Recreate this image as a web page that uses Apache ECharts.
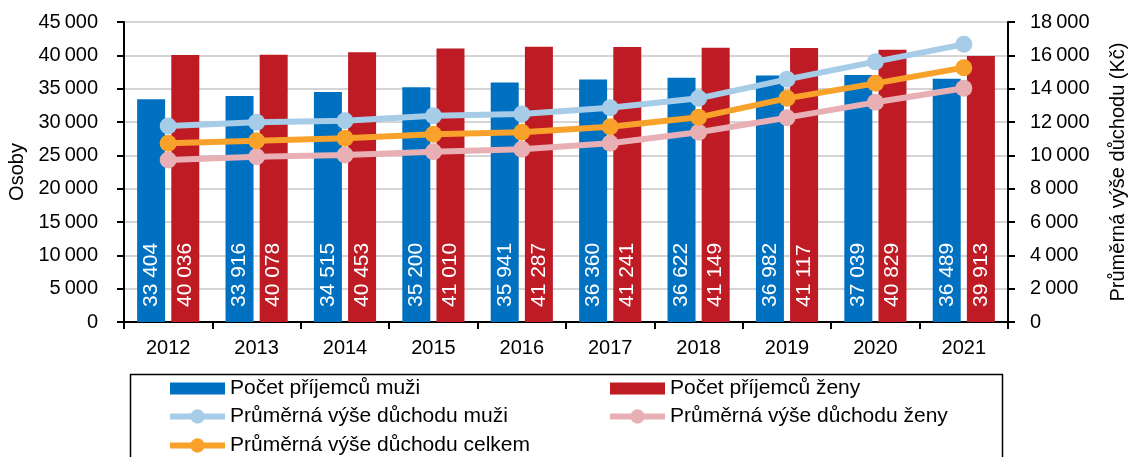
<!DOCTYPE html>
<html>
<head>
<meta charset="utf-8">
<script src="https://cdn.jsdelivr.net/npm/echarts@6/dist/echarts.min.js"></script>
<style>
html,body{margin:0;padding:0;background:#fff;}
#c{width:1129px;height:457px;}
</style>
</head>
<body>
<div id="c"></div>
<script>
var years = ['2012','2013','2014','2015','2016','2017','2018','2019','2020','2021'];
var menCount = [33404, 33916, 34515, 35200, 35941, 36360, 36622, 36982, 37039, 36489];
var womenCount = [40036, 40078, 40453, 41010, 41287, 41241, 41149, 41117, 40829, 39913];
var avgMen = [11760, 11980, 12080, 12380, 12480, 12860, 13420, 14560, 15620, 16660];
var avgWomen = [9720, 9920, 10020, 10220, 10360, 10720, 11380, 12260, 13180, 14020];
var avgTotal = [10720, 10880, 11020, 11260, 11380, 11720, 12280, 13420, 14320, 15260];

var names = {
  mc: 'Počet příjemců muži',
  wc: 'Počet příjemců ženy',
  am: 'Průměrná výše důchodu muži',
  aw: 'Průměrná výše důchodu ženy',
  at: 'Průměrná výše důchodu celkem'
};

function fmtSep(v, sep){
  return String(v).replace(/\B(?=(\d{3})+(?!\d))/g, sep);
}
function fmtAxis(v){ return fmtSep(v, '\u2009'); }

var FONT = 'Liberation Sans, Arial, sans-serif';
var FS = 20;
var chart = echarts.init(document.getElementById('c'));

var barLabel = {
  show: true, rotate: 90, position: 'insideBottom', align: 'left', verticalAlign: 'middle',
  distance: 15, color: '#fff', fontSize: 21, fontFamily: FONT,
  formatter: function(p){ return fmtSep(p.value, ' '); }
};

function lineSeries(name, data, color){
  return {
    name: name, type: 'line', yAxisIndex: 1, data: data,
    symbol: 'circle', symbolSize: 17,
    lineStyle: {color: color, width: 6},
    itemStyle: {color: color},
    z: 5
  };
}

function legendItem(name, left, centerY, isBar){
  var h = isBar ? 12 : 18;
  var o = {
    orient: 'horizontal', left: isBar ? left : left - 3, top: centerY - 11, padding: 0,
    itemGap: 0, itemWidth: 55, itemHeight: h,
    textStyle: {color: '#000', fontSize: 21, fontFamily: FONT, padding: [2,0,0,0]},
    data: [{name: name}]
  };
  if (isBar) { o.data[0].icon = 'rect'; }
  else { o.lineStyle = {width: 6}; }
  return o;
}

chart.setOption({
  animation: false,
  textStyle: {fontFamily: FONT},
  grid: {left: 124, right: 121, top: 22, bottom: 135, show: true, borderColor: '#000', borderWidth: 2,
         containLabel: false, outerBoundsMode: 'none'},
  xAxis: {
    type: 'category', data: years,
    axisLine: {lineStyle: {color: '#000', width: 2}},
    axisTick: {show: true, alignWithLabel: false, length: 7, lineStyle: {color: '#000', width: 2}},
    axisLabel: {color: '#000', fontSize: FS, margin: 16, fontFamily: FONT}
  },
  yAxis: [{
    type: 'value', min: 0, max: 45000, interval: 5000,
    name: 'Osoby', nameLocation: 'middle', nameGap: 96, nameRotate: 90,
    nameTextStyle: {color: '#000', fontSize: FS, fontFamily: FONT},
    axisLine: {show: true, lineStyle: {color: '#000', width: 2}},
    axisTick: {show: true, length: 7, lineStyle: {color: '#000', width: 2}},
    axisLabel: {color: '#000', fontSize: FS, margin: 26, fontFamily: FONT, formatter: fmtAxis},
    splitLine: {show: true, lineStyle: {color: '#D4D4D4', width: 2}}
  }, {
    type: 'value', min: 0, max: 18000, interval: 2000,
    name: 'Průměrná výše důchodu (Kč)', nameLocation: 'middle', nameGap: 100, nameRotate: 90,
    nameTextStyle: {color: '#000', fontSize: FS, fontFamily: FONT},
    axisLine: {show: true, lineStyle: {color: '#000', width: 2}},
    axisTick: {show: true, length: 7, lineStyle: {color: '#000', width: 2}},
    axisLabel: {color: '#000', fontSize: FS, margin: 22, fontFamily: FONT, formatter: fmtAxis},
    splitLine: {show: false}
  }],
  legend: [
    legendItem(names.mc, 170, 389, true),
    legendItem(names.wc, 610, 389, true),
    legendItem(names.am, 170, 417, false),
    legendItem(names.aw, 610, 417, false),
    legendItem(names.at, 170, 446, false)
  ],
  graphic: [{
    type: 'rect', left: 128, top: 372, silent: true,
    shape: {width: 872, height: 120},
    style: {fill: 'none', stroke: '#000', lineWidth: 1.5}
  }],
  series: [{
    name: names.mc, type: 'bar', data: menCount, yAxisIndex: 0,
    barWidth: 28, barGap: '22%',
    itemStyle: {color: '#0070C0'}, label: barLabel
  }, {
    name: names.wc, type: 'bar', data: womenCount, yAxisIndex: 0,
    barWidth: 28, barGap: '22%',
    itemStyle: {color: '#BE1B24'}, label: barLabel
  },
  lineSeries(names.am, avgMen, '#A6CCE8'),
  lineSeries(names.aw, avgWomen, '#E8B0B5'),
  lineSeries(names.at, avgTotal, '#F8A22C')
  ]
});
</script>
</body>
</html>
